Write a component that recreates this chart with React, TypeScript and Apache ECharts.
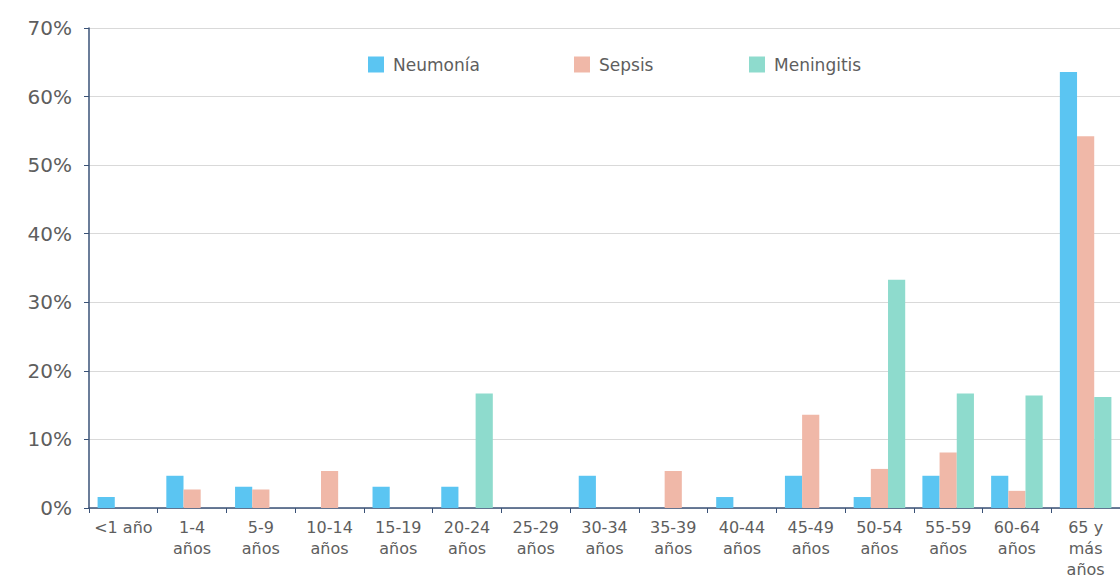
import React, { useEffect, useRef } from "react";
import * as echarts from "echarts";

const categories = [
  "<1 año", "1-4\naños", "5-9\naños", "10-14\naños", "15-19\naños", "20-24\naños",
  "25-29\naños", "30-34\naños", "35-39\naños", "40-44\naños", "45-49\naños",
  "50-54\naños", "55-59\naños", "60-64\naños", "65 y\nmás\naños",
];
const neumonia = [1.6, 4.7, 3.1, 0, 3.1, 3.1, 0, 4.7, 0, 1.6, 4.7, 1.6, 4.7, 4.7, 63.6];
const sepsis = [0, 2.7, 2.7, 5.4, 0, 0, 0, 0, 5.4, 0, 13.6, 5.7, 8.1, 2.5, 54.2];
const meningitis = [0, 0, 0, 0, 0, 16.7, 0, 0, 0, 0, 0, 33.3, 16.7, 16.4, 16.2];
const seriesNames = ["Neumonía", "Sepsis", "Meningitis"];
const colors = ["#5BC5F2", "#F0B8A8", "#8EDBCD"];

const FONT = "'DejaVu Sans', sans-serif";

export default function App() {
  const ref = useRef<HTMLDivElement>(null);
  useEffect(() => {
    if (!ref.current) return;
    const chart = echarts.init(ref.current, undefined, { renderer: "svg" });
    const legendLefts = [368, 574, 749];
    chart.setOption({
      animation: false,
      textStyle: { fontFamily: FONT },
      legend: seriesNames.map((n, i) => ({
        data: [n],
        left: legendLefts[i],
        top: 56,
        padding: 0,
        itemWidth: 16,
        itemHeight: 16,
        icon: "rect",
        textStyle: { fontSize: 17, color: "#5E5E5E", fontFamily: FONT, padding: [0, 0, 0, 4] },
      })),
      grid: { left: 89, right: 0, top: 28, bottom: 68, containLabel: false, outerBoundsMode: "none" },
      xAxis: {
        type: "category",
        data: categories,
        axisLine: { lineStyle: { color: "#3A5277", width: 1.5 } },
        axisTick: { show: true, length: 5, lineStyle: { color: "#3A5277" } },
        axisLabel: {
          interval: 0,
          color: "#5E5E5E",
          fontSize: 16,
          lineHeight: 21,
          margin: 9,
          fontFamily: FONT,
        },
      },
      yAxis: {
        type: "value",
        min: 0,
        max: 70,
        interval: 10,
        axisLine: { show: true, lineStyle: { color: "#3A5277", width: 1.5 } },
        axisTick: { show: true, length: 5, lineStyle: { color: "#3A5277" } },
        splitLine: { lineStyle: { color: "#D9D9D9" } },
        axisLabel: {
          formatter: "{value}%",
          color: "#5E5E5E",
          fontSize: 20,
          margin: 17,
          fontFamily: FONT,
        },
      },
      series: [neumonia, sepsis, meningitis].map((d, i) => ({
        name: seriesNames[i],
        type: "bar",
        data: d,
        itemStyle: { color: colors[i] },
        barGap: "0%",
        barCategoryGap: "25%",
      })),
    });
    return () => chart.dispose();
  }, []);
  return <div ref={ref} style={{ width: 1120, height: 576, position: "absolute", left: 0, top: 0 }} />;
}
